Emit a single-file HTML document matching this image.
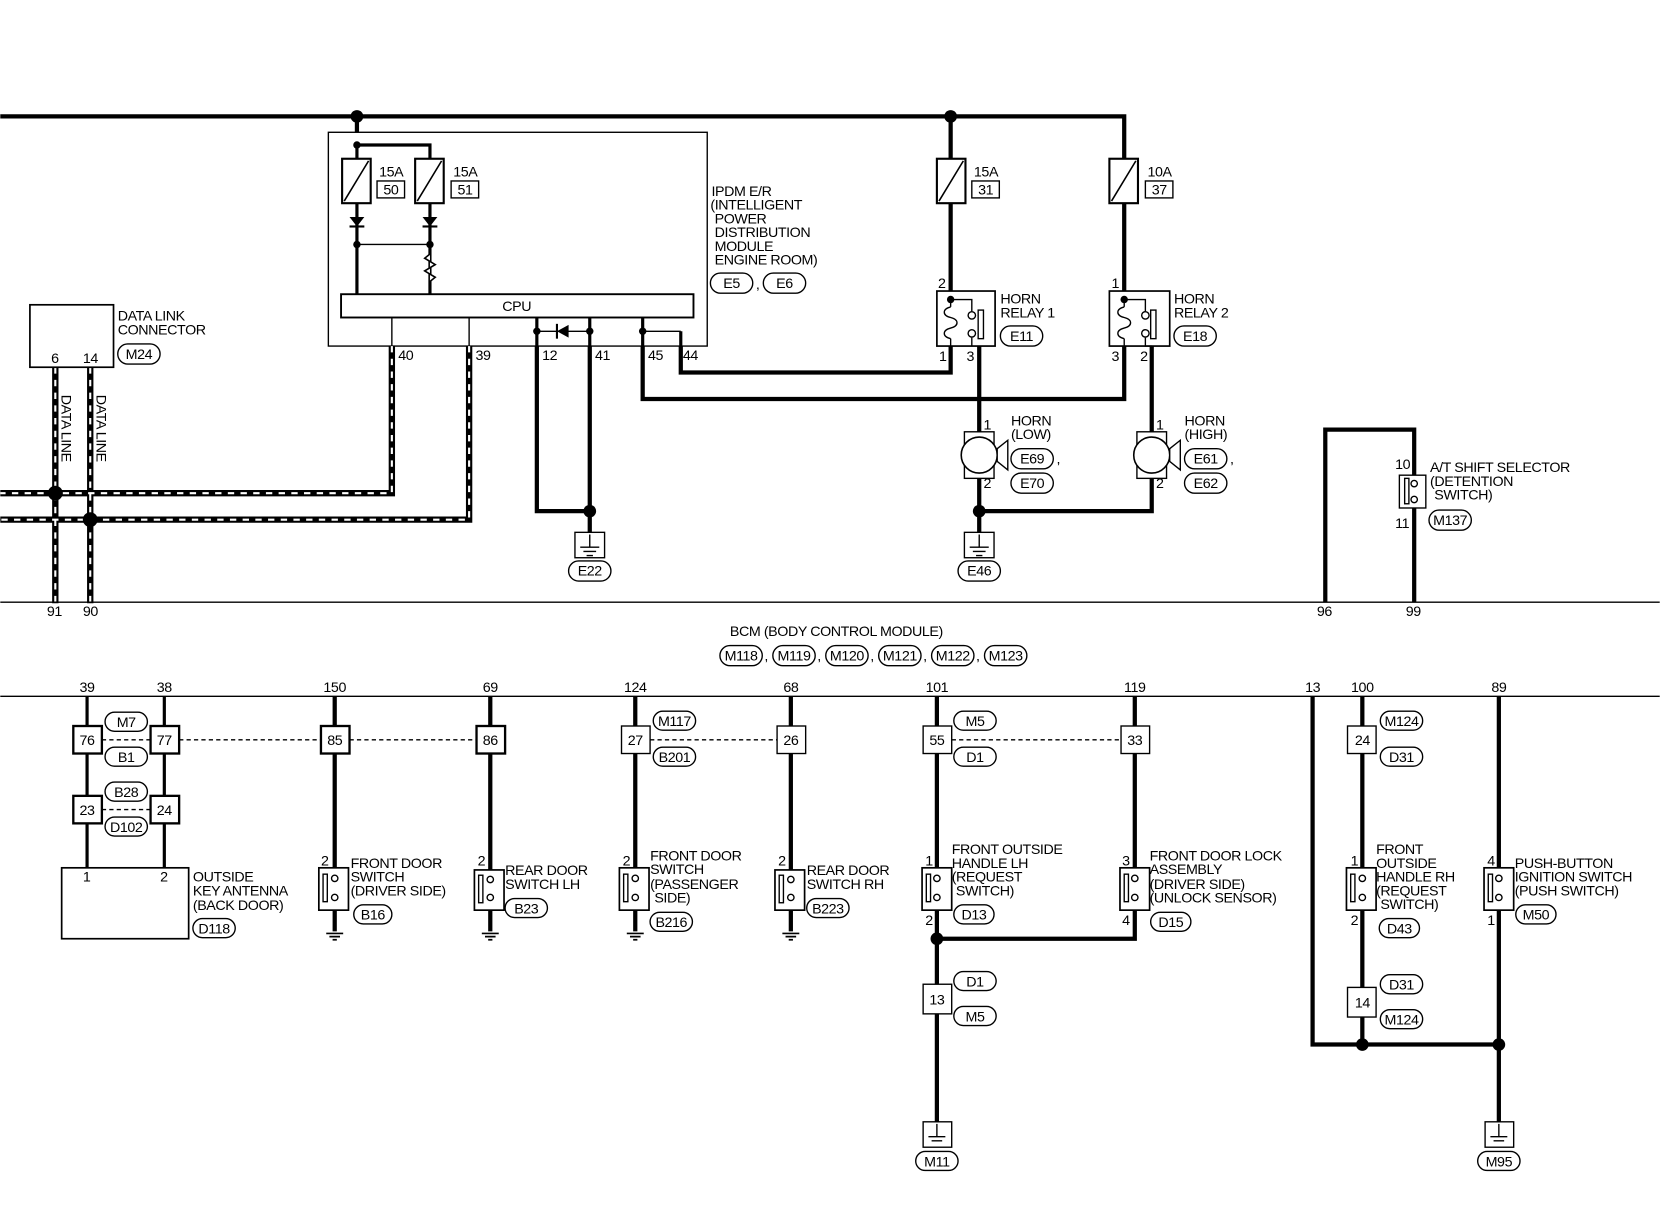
<!DOCTYPE html>
<html><head><meta charset="utf-8"><style>
html,body{margin:0;padding:0;background:#fff;}
svg{display:block;}
text{font-family:"Liberation Sans",sans-serif;font-size:13.5px;fill:#000;letter-spacing:-0.4px;}
.k{fill:none;stroke:#000;stroke-width:4;}
.m{fill:none;stroke:#000;stroke-width:3;}
.n{fill:none;stroke:#000;stroke-width:1.3;}
.b{fill:#fff;stroke:#000;stroke-width:1.3;}
.bb{fill:#fff;stroke:#000;stroke-width:2.2;}
.dw{fill:none;stroke:#000;stroke-width:6;}
.dd{fill:none;stroke:#fff;stroke-width:2;stroke-dasharray:6,6;}
.ds{fill:none;stroke:#000;stroke-width:1.3;stroke-dasharray:4,3;}
.mid{text-anchor:middle;}
</style></head><body>
<svg width="1660" height="1216" viewBox="0 0 1568 1149" xmlns="http://www.w3.org/2000/svg">
<!-- top bus -->
<path class="k" d="M0 110 H1062 V275"/>
<path class="k" d="M337 110 V137"/>
<circle cx="337" cy="110" r="6"/><circle cx="898" cy="110" r="6"/>
<!-- IPDM -->
<rect x="310" y="125" width="358" height="202" class="b"/>
<path class="m" d="M337 137 V278"/>
<path class="m" d="M337 137 H406 V278"/>
<circle cx="337" cy="137" r="3.5"/>
<rect x="323" y="150" width="27" height="42" class="b" style="stroke-width:2"/>
<line x1="325" y1="190" x2="348" y2="152" stroke="#000" stroke-width="1.5"/>
<rect x="392" y="150" width="27" height="42" class="b" style="stroke-width:2"/>
<line x1="394" y1="190" x2="417" y2="152" stroke="#000" stroke-width="1.5"/>
<text x="358" y="167">15A</text><rect x="356" y="171" width="26" height="16" class="b"/><text x="362" y="184">50</text>
<text x="428" y="167">15A</text><rect x="426" y="171" width="26" height="16" class="b"/><text x="432" y="184">51</text>
<path d="M330 205 H344 L337 214 Z"/><line x1="330" y1="214" x2="344" y2="214" stroke="#000" stroke-width="2"/>
<path d="M399 205 H413 L406 214 Z"/><line x1="399" y1="214" x2="413" y2="214" stroke="#000" stroke-width="2"/>
<line x1="337" y1="231" x2="406" y2="231" class="n"/>
<circle cx="337" cy="231" r="3.5"/><circle cx="406" cy="231" r="3.5"/>
<path d="M406 240 L401 244 L411 250 L401 256 L411 262 L406 266 V270" fill="#fff" stroke="#000" stroke-width="1.5"/>
<rect x="322" y="278" width="333" height="22" class="b" style="stroke-width:1.8"/>
<text x="488" y="294" class="mid">CPU</text>
<path class="n" d="M370 300 V327 M443 300 V327"/>
<path class="m" d="M507 300 V327 M557 300 V327 M607 300 V327 M643 313 V327"/>
<path class="n" d="M507 313 H557 M607 313 H643"/>
<circle cx="507" cy="313" r="3.5"/><circle cx="557" cy="313" r="3.5"/><circle cx="607" cy="313" r="3.5"/>
<path d="M526 313 L537 307 V319 Z"/><line x1="526" y1="306" x2="526" y2="320" stroke="#000" stroke-width="2"/>
<text x="376" y="340">40</text><text x="449" y="340">39</text><text x="512" y="340">12</text><text x="562" y="340">41</text><text x="612" y="340">45</text><text x="645" y="340">44</text>
<text x="672" y="185">IPDM E/R</text><text x="671" y="198">(INTELLIGENT</text><text x="675" y="211">POWER</text><text x="675" y="224">DISTRIBUTION</text><text x="675" y="237">MODULE</text><text x="675" y="250">ENGINE ROOM)</text>
<rect x="671" y="258" width="40" height="19" rx="9.5" class="b"/><text x="691" y="272" class="mid">E5</text><text x="714" y="273">,</text>
<rect x="721" y="258" width="40" height="19" rx="9.5" class="b"/><text x="741" y="272" class="mid">E6</text>
<!-- data lines -->
<path class="dw" d="M370 327 V466 H0 M443 327 V491 H0 M52 347 V570 M85 347 V570"/>
<path class="dd" d="M370 327 V466 H0 M443 327 V491 H0 M52 347 V570 M85 347 V570"/>
<circle cx="52" cy="466" r="7"/><circle cx="85" cy="491" r="7"/>
<rect x="28" y="288" width="79" height="59" class="b" style="stroke-width:1.6"/>
<text x="48" y="343">6</text><text x="78" y="343">14</text>
<text x="111" y="303">DATA LINK</text><text x="111" y="316">CONNECTOR</text>
<rect x="111" y="325" width="40" height="19" rx="9.5" class="b"/><text x="131" y="339" class="mid">M24</text>
<text transform="translate(58,373) rotate(90)">DATA LINE</text>
<text transform="translate(91,373) rotate(90)">DATA LINE</text>
<!-- 12/41 ground -->
<path class="k" d="M507 327 V483 H557 M557 327 V505"/>
<circle cx="557" cy="483" r="6"/>
<rect x="543" y="503" width="28" height="24" class="b"/>
<path class="n" d="M557 505 V517 M548 517 H566 M551 521 H563 M554 525 H560"/>
<rect x="537" y="530" width="40" height="19" rx="9.5" class="b"/><text x="557" y="544" class="mid">E22</text>
<!-- 45/44 wires -->
<path class="k" d="M607 327 V377 H1062 V327"/>
<path class="k" d="M643 327 V352 H898 V327"/>
<!-- fuses 31 / 37 -->
<path class="k" d="M898 110 V275"/>
<rect x="885" y="150" width="27" height="42" class="b" style="stroke-width:2"/><line x1="887" y1="190" x2="910" y2="152" stroke="#000" stroke-width="1.5"/>
<text x="920" y="167">15A</text><rect x="918" y="171" width="26" height="16" class="b"/><text x="924" y="184">31</text>
<rect x="1048" y="150" width="27" height="42" class="b" style="stroke-width:2"/><line x1="1050" y1="190" x2="1073" y2="152" stroke="#000" stroke-width="1.5"/>
<text x="1084" y="167">10A</text><rect x="1082" y="171" width="26" height="16" class="b"/><text x="1088" y="184">37</text>
<!-- relay 1 -->
<rect x="885" y="275" width="55" height="52" class="b" style="stroke-width:1.6"/>
<circle cx="898" cy="283" r="3.5"/>
<path class="n" d="M898 283 V290 M898 320 V327 M898 283 H918 V294"/>
<path d="M898 290 C890 292 890 298 898 300 C906 302 906 308 898 310 C890 312 890 318 898 320" fill="none" stroke="#000" stroke-width="1.3"/>
<circle cx="918" cy="298" r="3.5" class="b"/><circle cx="918" cy="315" r="3.5" class="b"/>
<path class="n" d="M918 319 V327"/>
<rect x="924" y="293" width="5" height="27" class="b"/>
<text x="886" y="272">2</text><text x="887" y="341">1</text><text x="913" y="341">3</text>
<text x="945" y="287">HORN</text><text x="945" y="300">RELAY 1</text>
<rect x="945" y="308" width="40" height="19" rx="9.5" class="b"/><text x="965" y="322" class="mid">E11</text>
<!-- relay 2 -->
<rect x="1048" y="275" width="57" height="52" class="b" style="stroke-width:1.6"/>
<circle cx="1062" cy="283" r="3.5"/>
<path class="n" d="M1062 283 V290 M1062 320 V327 M1062 283 H1082 V294"/>
<path d="M1062 290 C1054 292 1054 298 1062 300 C1070 302 1070 308 1062 310 C1054 312 1054 318 1062 320" fill="none" stroke="#000" stroke-width="1.3"/>
<circle cx="1082" cy="298" r="3.5" class="b"/><circle cx="1082" cy="315" r="3.5" class="b"/>
<path class="n" d="M1082 319 V327 H1088"/>
<rect x="1087" y="293" width="5" height="27" class="b"/>
<text x="1050" y="272">1</text><text x="1050" y="341">3</text><text x="1077" y="341">2</text>
<text x="1109" y="287">HORN</text><text x="1109" y="300">RELAY 2</text>
<rect x="1109" y="308" width="40" height="19" rx="9.5" class="b"/><text x="1129" y="322" class="mid">E18</text>
<!-- horns -->
<path class="k" d="M925 327 V408 M925 452 V505 M925 483 H1088 V452 M1088 327 V408"/>
<circle cx="925" cy="483" r="6"/>
<rect x="911" y="408" width="28" height="44" class="b"/>
<circle cx="925" cy="430" r="17" class="b" style="stroke-width:1.5"/>
<path d="M942 424 L952 416 V444 L942 436 Z" class="b"/>
<rect x="1074" y="408" width="28" height="44" class="b"/>
<circle cx="1088" cy="430" r="17" class="b" style="stroke-width:1.5"/>
<path d="M1105 424 L1115 416 V444 L1105 436 Z" class="b"/>
<text x="929" y="406">1</text><text x="929" y="461">2</text>
<text x="1092" y="406">1</text><text x="1092" y="461">2</text>
<text x="955" y="402">HORN</text><text x="955" y="415">(LOW)</text>
<rect x="955" y="424" width="40" height="19" rx="9.5" class="b"/><text x="975" y="438" class="mid">E69</text><text x="998" y="438">,</text>
<rect x="955" y="447" width="40" height="19" rx="9.5" class="b"/><text x="975" y="461" class="mid">E70</text>
<text x="1119" y="402">HORN</text><text x="1119" y="415">(HIGH)</text>
<rect x="1119" y="424" width="40" height="19" rx="9.5" class="b"/><text x="1139" y="438" class="mid">E61</text><text x="1162" y="438">,</text>
<rect x="1119" y="447" width="40" height="19" rx="9.5" class="b"/><text x="1139" y="461" class="mid">E62</text>
<rect x="911" y="503" width="28" height="24" class="b"/>
<path class="n" d="M925 505 V517 M916 517 H934 M919 521 H931 M922 525 H928"/>
<rect x="905" y="530" width="40" height="19" rx="9.5" class="b"/><text x="925" y="544" class="mid">E46</text>
<!-- A/T shift -->
<path class="k" d="M1252 569 V406 H1336 V569"/>
<rect x="1322" y="449" width="25" height="31" class="b"/>
<circle cx="1336" cy="457" r="3" class="b"/><circle cx="1336" cy="472" r="3" class="b"/>
<rect x="1327" y="452" width="4" height="24" class="b"/>
<text x="1318" y="443">10</text><text x="1318" y="499">11</text>
<text x="1351" y="446">A/T SHIFT SELECTOR</text><text x="1351" y="459">(DETENTION</text><text x="1355" y="472">SWITCH)</text>
<rect x="1350" y="482" width="40" height="19" rx="9.5" class="b"/><text x="1370" y="496" class="mid">M137</text>
<!-- BCM -->
<line x1="0" y1="569" x2="1568" y2="569" class="n"/>
<line x1="0" y1="658" x2="1568" y2="658" class="n"/>
<text x="44" y="582">91</text><text x="78" y="582">90</text><text x="1244" y="582">96</text><text x="1328" y="582">99</text>
<text x="790" y="601" class="mid">BCM (BODY CONTROL MODULE)</text>
<rect x="680" y="610" width="40" height="19" rx="9.5" class="b"/><text x="700" y="624" class="mid">M118</text><text x="722" y="624">,</text>
<rect x="730" y="610" width="40" height="19" rx="9.5" class="b"/><text x="750" y="624" class="mid">M119</text><text x="772" y="624">,</text>
<rect x="780" y="610" width="40" height="19" rx="9.5" class="b"/><text x="800" y="624" class="mid">M120</text><text x="822" y="624">,</text>
<rect x="830" y="610" width="40" height="19" rx="9.5" class="b"/><text x="850" y="624" class="mid">M121</text><text x="872" y="624">,</text>
<rect x="880" y="610" width="40" height="19" rx="9.5" class="b"/><text x="900" y="624" class="mid">M122</text><text x="922" y="624">,</text>
<rect x="930" y="610" width="40" height="19" rx="9.5" class="b"/><text x="950" y="624" class="mid">M123</text>
<g class="mid">
<text x="82" y="654" class="mid">39</text><text x="155" y="654" class="mid">38</text><text x="316" y="654" class="mid">150</text><text x="463" y="654" class="mid">69</text><text x="600" y="654" class="mid">124</text><text x="747" y="654" class="mid">68</text><text x="885" y="654" class="mid">101</text><text x="1072" y="654" class="mid">119</text><text x="1240" y="654" class="mid">13</text><text x="1287" y="654" class="mid">100</text><text x="1416" y="654" class="mid">89</text>
</g>
<!-- lower wires -->
<path class="m" d="M82 658 V820 M155 658 V820"/>
<path class="k" d="M316 658 V880 M463 658 V880 M600 658 V880 M747 658 V880"/>
<path class="k" d="M885 658 V1062 M1072 658 V887 H885"/>
<path class="k" d="M1287 658 V987 M1240 658 V987 H1416 M1416 658 V1062"/>
<circle cx="885" cy="887" r="6"/><circle cx="1287" cy="987" r="6"/><circle cx="1416" cy="987" r="6"/>
<!-- dashed -->
<path class="ds" d="M96 699 H142 M169 699 H303 M330 699 H450 M614 699 H734 M899 699 H1059 M96 765 H142"/>
<!-- connector boxes -->
<rect x="69" y="686" width="27" height="26" class="bb"/><text x="82" y="704" class="mid">76</text>
<rect x="142" y="686" width="27" height="26" class="bb"/><text x="155" y="704" class="mid">77</text>
<rect x="303" y="686" width="27" height="26" class="bb"/><text x="316" y="704" class="mid">85</text>
<rect x="450" y="686" width="27" height="26" class="bb"/><text x="463" y="704" class="mid">86</text>
<rect x="587" y="686" width="27" height="26" class="b"/><text x="600" y="704" class="mid">27</text>
<rect x="734" y="686" width="27" height="26" class="b"/><text x="747" y="704" class="mid">26</text>
<rect x="872" y="686" width="27" height="26" class="b"/><text x="885" y="704" class="mid">55</text>
<rect x="1059" y="686" width="27" height="26" class="b"/><text x="1072" y="704" class="mid">33</text>
<rect x="1273" y="686" width="27" height="26" class="b"/><text x="1287" y="704" class="mid">24</text>
<rect x="69" y="752" width="27" height="26" class="bb"/><text x="82" y="770" class="mid">23</text>
<rect x="142" y="752" width="27" height="26" class="bb"/><text x="155" y="770" class="mid">24</text>
<rect x="872" y="930" width="27" height="28" class="b"/><text x="885" y="949" class="mid">13</text>
<rect x="1273" y="933" width="27" height="28" class="b"/><text x="1287" y="952" class="mid">14</text>
<!-- ovals -->
<g>
<rect x="99" y="673" width="40" height="18" rx="9" class="b"/><text x="119" y="687" class="mid">M7</text>
<rect x="99" y="706" width="40" height="18" rx="9" class="b"/><text x="119" y="720" class="mid">B1</text>
<rect x="99" y="739" width="40" height="18" rx="9" class="b"/><text x="119" y="753" class="mid">B28</text>
<rect x="99" y="772" width="40" height="18" rx="9" class="b"/><text x="119" y="786" class="mid">D102</text>
<rect x="617" y="672" width="40" height="18" rx="9" class="b"/><text x="637" y="686" class="mid">M117</text>
<rect x="617" y="706" width="40" height="18" rx="9" class="b"/><text x="637" y="720" class="mid">B201</text>
<rect x="901" y="672" width="40" height="18" rx="9" class="b"/><text x="921" y="686" class="mid">M5</text>
<rect x="901" y="706" width="40" height="18" rx="9" class="b"/><text x="921" y="720" class="mid">D1</text>
<rect x="1304" y="672" width="40" height="18" rx="9" class="b"/><text x="1324" y="686" class="mid">M124</text>
<rect x="1304" y="706" width="40" height="18" rx="9" class="b"/><text x="1324" y="720" class="mid">D31</text>
<rect x="901" y="918" width="40" height="18" rx="9" class="b"/><text x="921" y="932" class="mid">D1</text>
<rect x="901" y="951" width="40" height="18" rx="9" class="b"/><text x="921" y="965" class="mid">M5</text>
<rect x="1304" y="921" width="40" height="18" rx="9" class="b"/><text x="1324" y="935" class="mid">D31</text>
<rect x="1304" y="954" width="40" height="18" rx="9" class="b"/><text x="1324" y="968" class="mid">M124</text>
</g>
<!-- antenna -->
<rect x="58" y="820" width="120" height="67" class="b" style="stroke-width:1.6"/>
<text x="78" y="833">1</text><text x="151" y="833">2</text>
<text x="182" y="833">OUTSIDE</text><text x="182" y="846">KEY ANTENNA</text><text x="182" y="860">(BACK DOOR)</text>
<rect x="182" y="868" width="40" height="18" rx="9" class="b"/><text x="202" y="882" class="mid">D118</text>
<!-- switches: generic -->
<g>
<rect x="301" y="820" width="28" height="40" class="b" style="stroke-width:1.6"/><circle cx="316" cy="830" r="3" class="b"/><circle cx="316" cy="848" r="3" class="b"/><rect x="305" y="826" width="4" height="26" class="b"/>
<rect x="448" y="822" width="28" height="38" class="b" style="stroke-width:1.6"/><circle cx="463" cy="831" r="3" class="b"/><circle cx="463" cy="848" r="3" class="b"/><rect x="452" y="827" width="4" height="26" class="b"/>
<rect x="585" y="820" width="28" height="40" class="b" style="stroke-width:1.6"/><circle cx="600" cy="830" r="3" class="b"/><circle cx="600" cy="848" r="3" class="b"/><rect x="589" y="826" width="4" height="26" class="b"/>
<rect x="732" y="822" width="28" height="38" class="b" style="stroke-width:1.6"/><circle cx="747" cy="831" r="3" class="b"/><circle cx="747" cy="848" r="3" class="b"/><rect x="736" y="827" width="4" height="26" class="b"/>
<rect x="871" y="820" width="28" height="40" class="b" style="stroke-width:1.6"/><circle cx="885" cy="830" r="3" class="b"/><circle cx="885" cy="848" r="3" class="b"/><rect x="875" y="826" width="4" height="26" class="b"/>
<rect x="1058" y="820" width="28" height="40" class="b" style="stroke-width:1.6"/><circle cx="1072" cy="830" r="3" class="b"/><circle cx="1072" cy="848" r="3" class="b"/><rect x="1062" y="826" width="4" height="26" class="b"/>
<rect x="1272" y="820" width="28" height="40" class="b" style="stroke-width:1.6"/><circle cx="1287" cy="830" r="3" class="b"/><circle cx="1287" cy="848" r="3" class="b"/><rect x="1276" y="826" width="4" height="26" class="b"/>
<rect x="1402" y="820" width="28" height="40" class="b" style="stroke-width:1.6"/><circle cx="1416" cy="830" r="3" class="b"/><circle cx="1416" cy="848" r="3" class="b"/><rect x="1406" y="826" width="4" height="26" class="b"/>
</g>
<!-- small grounds -->
<path class="n" d="M308 882 H324 M311 885 H321 M314 888 H318 M455 882 H471 M458 885 H468 M461 888 H465 M592 882 H608 M595 885 H605 M598 888 H602 M739 882 H755 M742 885 H752 M745 888 H749" style="stroke-width:1.6"/>
<text x="303" y="818">2</text><text x="451" y="818">2</text><text x="588" y="818">2</text><text x="735" y="818">2</text>
<text x="874" y="818">1</text><text x="874" y="874">2</text><text x="1060" y="818">3</text><text x="1060" y="874">4</text>
<text x="1276" y="818">1</text><text x="1276" y="874">2</text><text x="1405" y="818">4</text><text x="1405" y="874">1</text>
<!-- switch labels -->
<text x="331" y="820">FRONT DOOR</text><text x="331" y="833">SWITCH</text><text x="331" y="846">(DRIVER SIDE)</text>
<rect x="334" y="855" width="36" height="18" rx="9" class="b"/><text x="352" y="869" class="mid">B16</text>
<text x="477" y="827">REAR DOOR</text><text x="477" y="840">SWITCH LH</text>
<rect x="477" y="849" width="40" height="18" rx="9" class="b"/><text x="497" y="863" class="mid">B23</text>
<text x="614" y="813">FRONT DOOR</text><text x="614" y="826">SWITCH</text><text x="614" y="840">(PASSENGER</text><text x="618" y="853">SIDE)</text>
<rect x="614" y="862" width="40" height="18" rx="9" class="b"/><text x="634" y="876" class="mid">B216</text>
<text x="762" y="827">REAR DOOR</text><text x="762" y="840">SWITCH RH</text>
<rect x="762" y="849" width="40" height="18" rx="9" class="b"/><text x="782" y="863" class="mid">B223</text>
<text x="899" y="807">FRONT OUTSIDE</text><text x="899" y="820">HANDLE LH</text><text x="899" y="833">(REQUEST</text><text x="903" y="846">SWITCH)</text>
<rect x="901" y="855" width="38" height="18" rx="9" class="b"/><text x="920" y="869" class="mid">D13</text>
<text x="1086" y="813">FRONT DOOR LOCK</text><text x="1086" y="826">ASSEMBLY</text><text x="1086" y="840">(DRIVER SIDE)</text><text x="1086" y="853">(UNLOCK SENSOR)</text>
<rect x="1087" y="862" width="38" height="18" rx="9" class="b"/><text x="1106" y="876" class="mid">D15</text>
<text x="1300" y="807">FRONT</text><text x="1300" y="820">OUTSIDE</text><text x="1300" y="833">HANDLE RH</text><text x="1300" y="846">(REQUEST</text><text x="1304" y="859">SWITCH)</text>
<rect x="1303" y="868" width="38" height="18" rx="9" class="b"/><text x="1322" y="882" class="mid">D43</text>
<text x="1431" y="820">PUSH-BUTTON</text><text x="1431" y="833">IGNITION SWITCH</text><text x="1431" y="846">(PUSH SWITCH)</text>
<rect x="1432" y="855" width="38" height="18" rx="9" class="b"/><text x="1451" y="869" class="mid">M50</text>
<!-- big grounds -->
<rect x="872" y="1060" width="27" height="24" class="b"/><path class="n" d="M885 1062 V1074 M877 1074 H893 M880 1078 H890"/>
<rect x="865" y="1088" width="40" height="18" rx="9" class="b"/><text x="885" y="1102" class="mid">M11</text>
<rect x="1403" y="1060" width="27" height="24" class="b"/><path class="n" d="M1416 1062 V1074 M1408 1074 H1424 M1411 1078 H1421"/>
<rect x="1396" y="1088" width="40" height="18" rx="9" class="b"/><text x="1416" y="1102" class="mid">M95</text>
</svg>
</body></html>
